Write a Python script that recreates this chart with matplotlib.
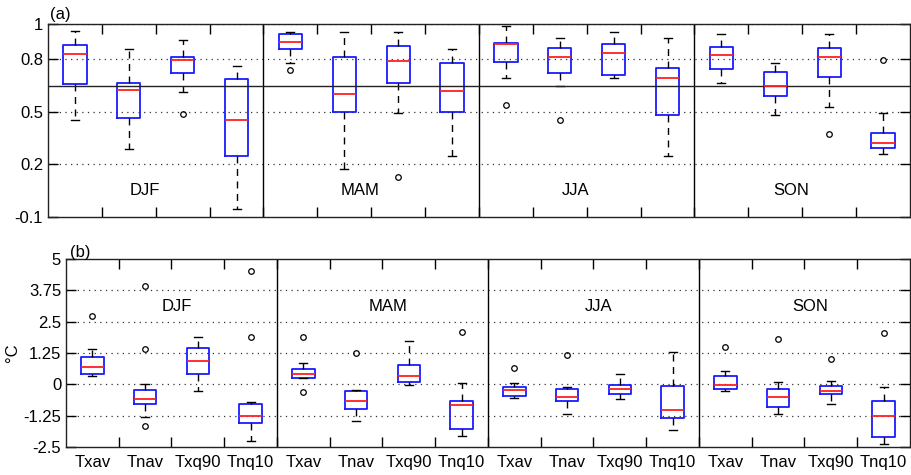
import matplotlib
matplotlib.use("Agg")
import matplotlib.pyplot as plt
import numpy as np

plt.rcParams['font.family'] = ['Liberation Sans', 'DejaVu Sans']

seasons = ["DJF", "MAM", "JJA", "SON"]
indices = ["Txav", "Tnav", "Txq90", "Tnq10"]

# Panel (a): whisker low, q1, median, q3, whisker high, outliers
a_wlo = [0.453, 0.289, 0.611, -0.054, 0.776, 0.175, 0.493, 0.249,
         0.690, 0.649, 0.690, 0.249, 0.665, 0.480, 0.526, 0.260]
a_q1 = [0.657, 0.464, 0.719, 0.249, 0.859, 0.501, 0.665, 0.501,
        0.786, 0.719, 0.711, 0.480, 0.744, 0.588, 0.696, 0.295]
a_med = [0.829, 0.622, 0.792, 0.453, 0.896, 0.603, 0.788, 0.617,
         0.884, 0.813, 0.834, 0.690, 0.821, 0.649, 0.813, 0.324]
a_q3 = [0.882, 0.665, 0.813, 0.684, 0.944, 0.813, 0.877, 0.775,
        0.890, 0.861, 0.888, 0.751, 0.869, 0.726, 0.861, 0.378]
a_whi = [0.961, 0.859, 0.908, 0.759, 0.956, 0.954, 0.956, 0.859,
         0.988, 0.921, 0.956, 0.921, 0.944, 0.775, 0.944, 0.493]
a_out = [[], [], [0.487], [], [0.740], [], [0.127], [],
         [0.541], [0.453], [], [], [], [], [0.372], [0.792]]
a_hline = 0.644

# Panel (b)
b_wlo = [0.316, -1.30, -0.27, -2.26, 0.25, -1.46, -0.03, -2.07,
         -0.54, -1.17, -0.59, -1.83, -0.27, -1.18, -0.78, -2.38]
b_q1 = [0.396, -0.792, 0.396, -1.54, 0.249, -0.98, 0.10, -1.79,
        -0.46, -0.645, -0.405, -1.35, -0.19, -0.89, -0.405, -2.11]
b_med = [0.69, -0.605, 0.916, -1.26, 0.396, -0.65, 0.34, -0.82,
         -0.23, -0.50, -0.18, -1.03, -0.02, -0.50, -0.26, -1.26]
b_q3 = [1.103, -0.23, 1.437, -0.78, 0.596, -0.26, 0.78, -0.645,
        -0.125, -0.18, -0.03, -0.07, 0.34, -0.18, -0.085, -0.645]
b_whi = [1.397, 0.0, 1.90, -0.70, 0.863, -0.23, 1.73, 0.062,
         0.035, -0.125, 0.396, 1.29, 0.53, 0.10, 0.14, -0.10]
b_out = [[2.72], [3.93, 1.42, -1.67], [], [4.51, 1.90], [1.90, -0.31], [1.25], [], [2.10],
         [0.65], [1.16], [], [], [1.49], [1.82], [1.01], [2.06]]

a_yticks = [-0.1, 0.2, 0.5, 0.8, 1.0]
a_yticklabels = ["-0.1", "0.2", "0.5", "0.8", "1"]
b_yticks = [-2.5, -1.25, 0, 1.25, 2.5, 3.75, 5]
b_yticklabels = ["-2.5", "-1.25", "0", "1.25", "2.5", "3.75", "5"]


def stats(wlo, q1, med, q3, whi, out):
    res = []
    for i in range(len(med)):
        res.append(dict(whislo=wlo[i], q1=q1[i], med=med[i], q3=q3[i],
                        whishi=whi[i], fliers=out[i], label=""))
    return res


fig = plt.figure(figsize=(9.12, 4.75), dpi=100)
axa = fig.add_axes([48/912, 1-217/475, 862/912, (217-24)/475])
axb = fig.add_axes([66/912, 1-447/475, 844/912, (447-259)/475])

n = len(a_med)
pos = np.arange(1, n + 1)
fs = 12


def style(ax, st, ylim, yticks, yticklabels, grid_vals):
    ax.bxp(st, positions=pos, widths=0.43, capwidths=0.15,
           boxprops=dict(color='#1a1aff', linewidth=1.3),
           medianprops=dict(color='#ff2020', linewidth=1.3),
           whiskerprops=dict(color='black', linewidth=1.0, linestyle=(0, (5, 4))),
           capprops=dict(color='black', linewidth=1.0),
           flierprops=dict(marker='o', markersize=4, markerfacecolor='none',
                           markeredgecolor='black', markeredgewidth=0.9))
    ax.set_xlim(0.5, n + 0.5)
    ax.set_ylim(*ylim)
    for g in grid_vals:
        ax.axhline(g, color='#333333', linestyle=(0, (1, 3.5)), linewidth=0.9, zorder=0)
    for s in [4.5, 8.5, 12.5]:
        ax.axvline(s, color='black', linewidth=1.0)
    ax.set_yticks(yticks)
    ax.set_yticklabels(yticklabels, fontsize=fs)
    ax.set_xticks(np.arange(1.5, n, 1.0), minor=True)
    ax.tick_params(axis='x', which='minor', direction='in', length=7, top=True, bottom=True, width=1.0)
    ax.tick_params(axis='y', which='major', direction='in', length=7, left=True, right=True, width=1.0)
    for sp in ax.spines.values():
        sp.set_linewidth(1.0)
        sp.set_color('#222222')


style(axa, stats(a_wlo, a_q1, a_med, a_q3, a_whi, a_out), (-0.1, 1.0),
      a_yticks, a_yticklabels, [0.2, 0.5, 0.8, 1.0])
axa.axhline(a_hline, color='#222222', linewidth=1.0)
axa.set_xticks(pos)
axa.set_xticklabels([])
axa.tick_params(axis='x', which='major', length=0)
for k, s in enumerate(seasons):
    axa.text(2.3 + 4 * k, 0.05, s, fontsize=fs, ha='center', va='center')
fig.text(50/912, 1-14/475, "(a)", fontsize=fs, ha='left', va='center')

style(axb, stats(b_wlo, b_q1, b_med, b_q3, b_whi, b_out), (-2.5, 5.0),
      b_yticks, b_yticklabels, [-1.25, 0, 1.25, 2.5, 3.75])
axb.set_xticks(pos)
axb.set_xticklabels(indices * 4, fontsize=fs)
axb.tick_params(axis='x', which='major', length=0, pad=6)
for k, s in enumerate(seasons):
    axb.text(2.6 + 4 * k, 3.1, s, fontsize=fs, ha='center', va='center')
axb.set_ylabel("°C", fontsize=fs, labelpad=2)
fig.text(70/912, 1-252/475, "(b)", fontsize=fs, ha='left', va='center')

fig.savefig("out.png", dpi=100)
